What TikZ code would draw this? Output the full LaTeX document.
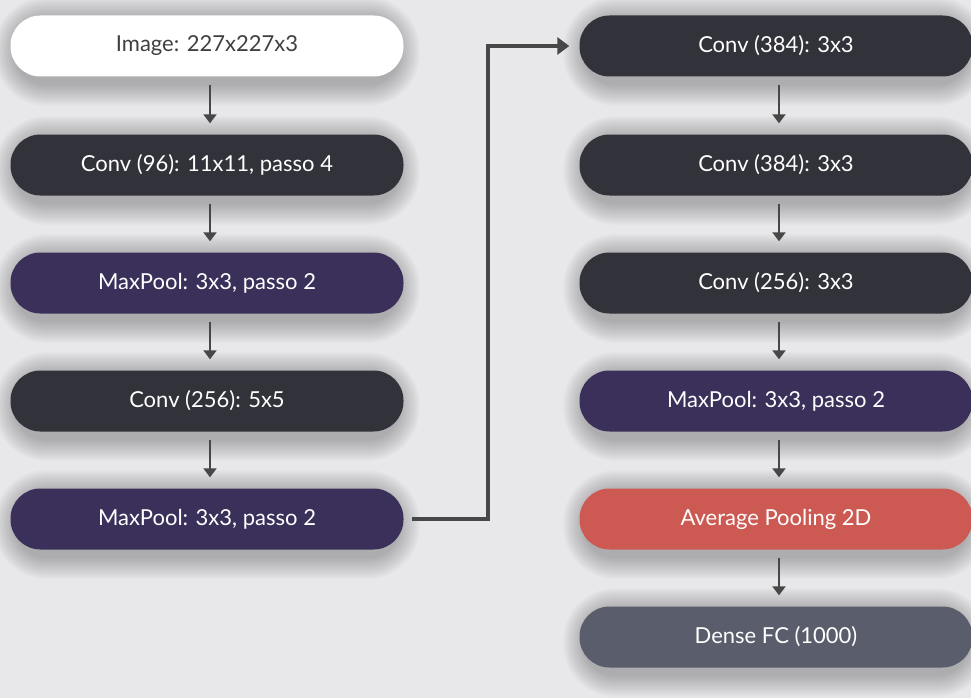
\documentclass[tikz,border=0pt]{standalone}
\usepackage{fontspec}
\setmainfont{Lato}
\usetikzlibrary{arrows.meta,backgrounds}
\definecolor{bgc}{HTML}{E8E8EA}
\definecolor{darkc}{HTML}{32323B}
\definecolor{purc}{HTML}{3A3059}
\definecolor{redc}{HTML}{CC5A52}
\definecolor{slatec}{HTML}{5A5E6C}
\definecolor{arrc}{HTML}{474747}
\tikzset{
  layer/.style={rounded corners=30pt, minimum width=393pt, minimum height=61pt,
    inner sep=0pt, font=\fontsize{22}{24}\selectfont, text=white},
  whitebox/.style={layer, fill=white, text=black!75},
  darkbox/.style={layer, fill=darkc},
  purbox/.style={layer, fill=purc},
  redbox/.style={layer, fill=redc},
  slatebox/.style={layer, fill=slatec},
  softshadow/.style={fill=black, opacity=0.022},
  flow/.style={draw=arrc, line width=2.2pt, -{Triangle[length=9pt,width=13pt]}},
  elbow/.style={draw=arrc, line width=3.5pt, -{Triangle[length=12pt,width=17pt]}}
}
\begin{document}
\begin{tikzpicture}[x=1pt,y=-1pt]
\useasboundingbox (0,0) rectangle (971,698);
% left column
\node[whitebox] (a1) at (207,46) {Image: 227x227x3};
\node[darkbox] (a2) at (207,165) {Conv (96): 11x11, passo 4};
\node[purbox] (a3) at (207,283) {MaxPool: 3x3, passo 2};
\node[darkbox] (a4) at (207,401) {Conv (256): 5x5};
\node[purbox] (a5) at (207,519) {MaxPool: 3x3, passo 2};
% right column
\node[darkbox] (b1) at (776,46) {Conv (384): 3x3};
\node[darkbox] (b2) at (776,165) {Conv (384): 3x3};
\node[darkbox] (b3) at (776,283) {Conv (256): 3x3};
\node[purbox] (b4) at (776,401) {MaxPool: 3x3, passo 2};
\node[redbox] (b5) at (776,519) {Average Pooling 2D};
\node[slatebox] (b6) at (776,637) {Dense FC (1000)};
\begin{pgfonlayer}{background}
\fill[bgc] (0,0) rectangle (971,698);
\foreach \n in {a1,a2,a3,a4,a5,b1,b2,b3,b4,b5,b6}{
  \foreach \i in {2,4,...,22}{
    \fill[softshadow, rounded corners=30pt+\i pt]
      ([xshift=-\i pt+6pt,yshift=-\i pt-7pt]\n.south west) rectangle
      ([xshift=\i pt-6pt,yshift=\i pt-4pt]\n.north east);
  }
}
\end{pgfonlayer}
% arrows
\foreach \u/\v in {a1/a2,a2/a3,a3/a4,a4/a5,b1/b2,b2/b3,b3/b4,b4/b5,b5/b6}{
  \draw[flow] ([xshift=3pt,yshift=-8pt]\u.south) -- ([xshift=3pt,yshift=11pt]\v.north);
}
\coordinate (e1) at (488,519);
\coordinate (e2) at (488,46);
\draw[elbow] ([xshift=8pt]a5.east) -- (e1) -- (e2) -- ([xshift=-10pt]b1.west);
\end{tikzpicture}
\end{document}
